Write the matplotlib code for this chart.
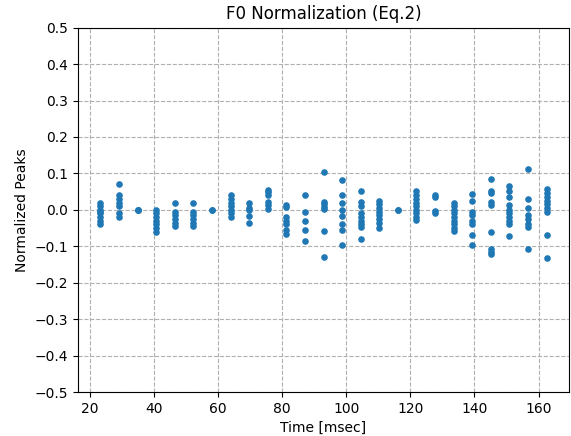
import matplotlib
matplotlib.use("Agg")
import matplotlib.pyplot as plt
import numpy as np

frame_ms = 5.805
frames = list(range(4, 29))

peaks = [
    [0.02, 0.01, 0.0, -0.005, -0.01, -0.02, -0.03, -0.04],
    [0.07, 0.04, 0.03, 0.02, 0.01, -0.01, -0.02],
    [0.0, 0.0, 0.0],
    [0.0, -0.01, -0.02, -0.03, -0.04, -0.05, -0.06],
    [0.018, -0.005, -0.015, -0.025, -0.035, -0.045],
    [0.018, -0.005, -0.015, -0.025, -0.035, -0.045],
    [0.0, 0.0],
    [0.04, 0.03, 0.02, 0.01, 0.0, -0.01, -0.02],
    [0.018, 0.005, -0.001, -0.017, -0.036],
    [0.055, 0.048, 0.04, 0.022, 0.012, 0.003],
    [0.014, 0.008, -0.02, -0.03, -0.04, -0.055, -0.065],
    [0.04, -0.005, -0.03, -0.055, -0.085],
    [0.105, 0.022, 0.015, 0.008, 0.002, -0.058, -0.129],
    [0.082, 0.041, 0.019, 0.0, -0.018, -0.04, -0.056, -0.097],
    [0.051, 0.022, 0.01, -0.01, -0.02, -0.03, -0.04, -0.048, -0.079],
    [0.025, 0.015, 0.005, -0.005, -0.015, -0.025, -0.035, -0.05],
    [0.0, 0.0],
    [0.052, 0.04, 0.03, 0.02, 0.01, 0.0, -0.01, -0.02, -0.028],
    [0.04, 0.034, -0.004, -0.01],
    [0.02, 0.01, 0.0, -0.01, -0.02, -0.03, -0.04, -0.05, -0.058],
    [0.043, 0.025, -0.005, -0.015, -0.03, -0.04, -0.07, -0.097],
    [0.085, 0.053, 0.045, 0.021, 0.012, -0.061, -0.108, -0.115, -0.122],
    [0.066, 0.052, 0.036, 0.012, 0.0, -0.01, -0.02, -0.03, -0.038, -0.073],
    [0.112, 0.03, 0.005, -0.015, -0.025, -0.04, -0.047, -0.108],
    [0.057, 0.045, 0.035, 0.025, 0.015, 0.005, -0.005, -0.068, -0.131],
]

times = [f * frame_ms for f in frames]
xs = []
ys = []
for t, vals in zip(times, peaks):
    xs.extend([t] * len(vals))
    ys.extend(vals)

fig = plt.figure(figsize=(5.71, 4.36), dpi=100)
ax = fig.add_axes([0.1366, 0.1009, 0.8599, 0.8356])
ax.scatter(xs, ys, s=14, color="#1f77b4", zorder=3)
ax.set_ylim(-0.5, 0.5)
ax.set_yticks(np.arange(-0.5, 0.51, 0.1))
ax.set_xticks([20, 40, 60, 80, 100, 120, 140, 160])
ax.grid(True, linestyle="--", color="#b0b0b0", linewidth=0.8)
ax.set_axisbelow(True)
ax.set_title("F0 Normalization (Eq.2)", fontsize=12)
ax.set_xlabel("Time [msec]")
ax.set_ylabel("Normalized Peaks")
fig.savefig("out.png", dpi=100)
